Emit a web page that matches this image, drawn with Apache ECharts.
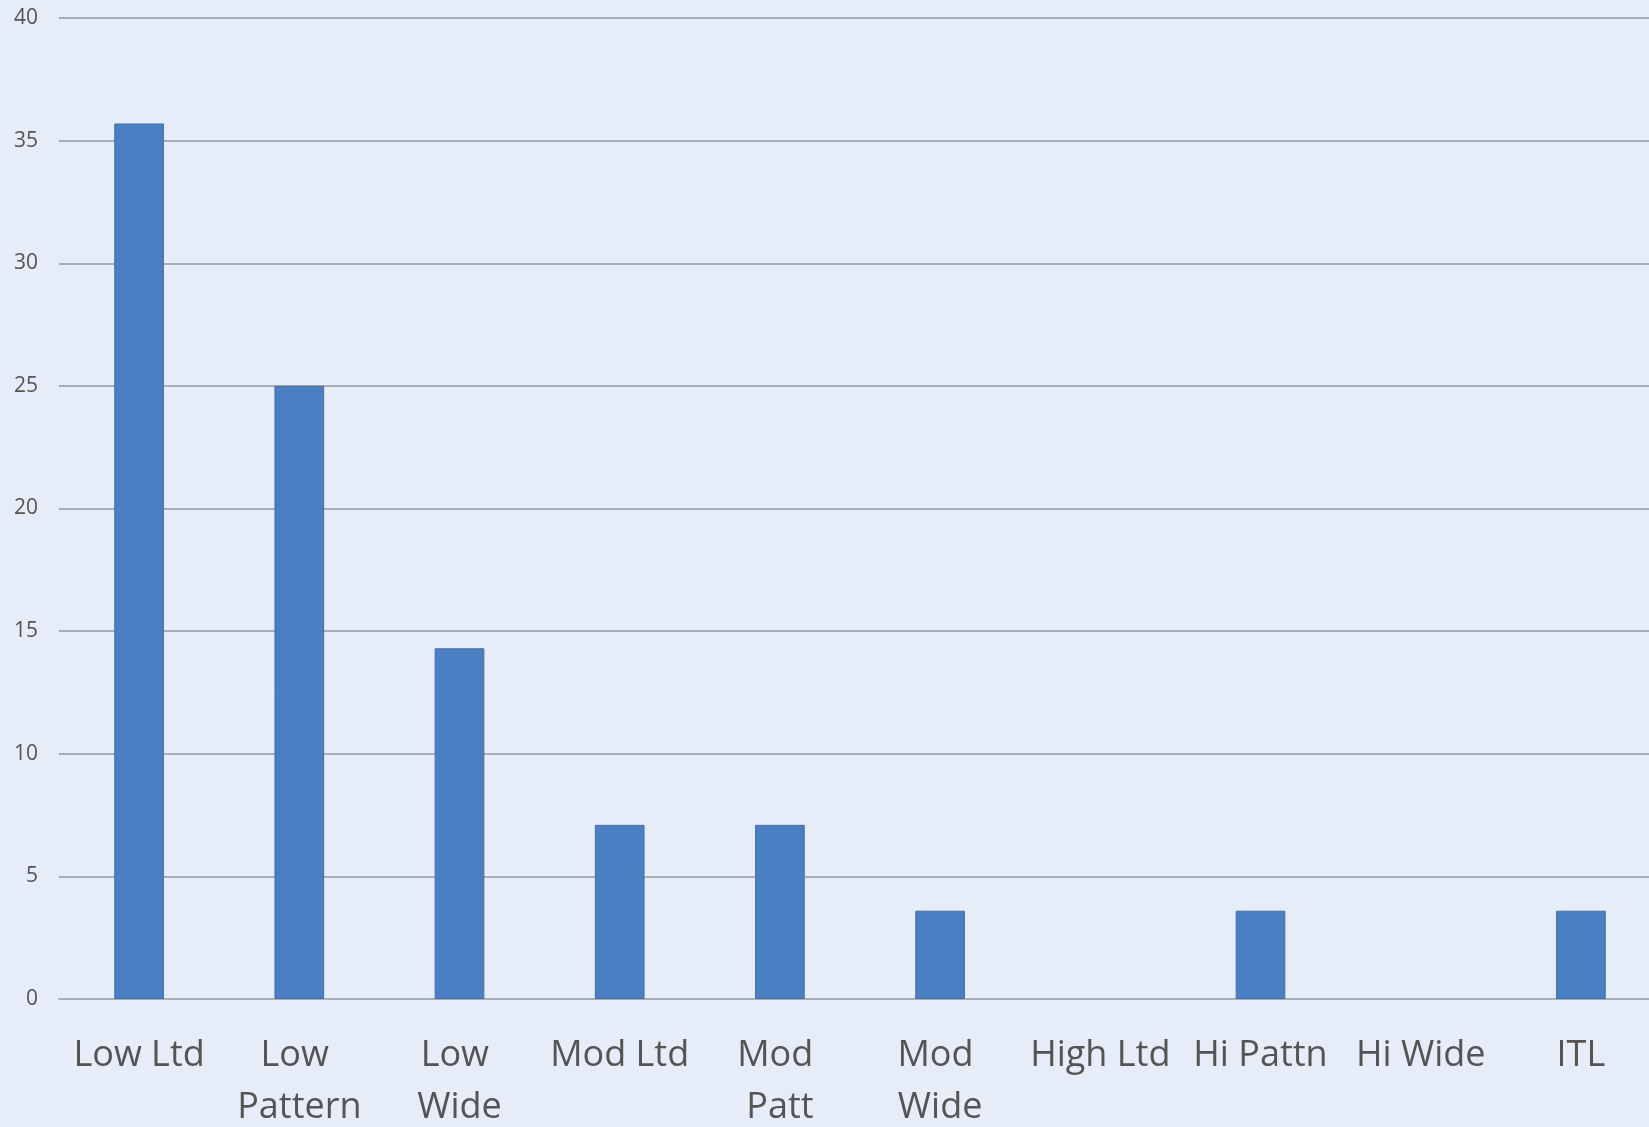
<!DOCTYPE html>
<html>
<head>
<meta charset="utf-8">
<title>Distribution by category</title>
<script src="https://cdn.jsdelivr.net/npm/echarts@6/dist/echarts.min.js"></script>
<style>
  html, body { margin: 0; padding: 0; background: #e6edf8; overflow: hidden; }
  /* the plot runs slightly past the right edge of the window */
  #chart { width: 1661px; height: 1127px; }
</style>
</head>
<body>
<div id="chart"></div>
<script>
// Categories along the x axis
const categories = ['Low Ltd', 'Low Pattern', 'Low Wide', 'Mod Ltd', 'Mod Patt',
                    'Mod Wide', 'High Ltd', 'Hi Pattn', 'Hi Wide', 'ITL'];
// Percentage share per category
const values = [35.7, 25.0, 14.3, 7.1, 7.1, 3.6, 0, 3.6, 0, 3.6];
// Value axis ticks
const yTicks = [0, 5, 10, 15, 20, 25, 30, 35, 40];

const chart = echarts.init(document.getElementById('chart'), null, { renderer: 'canvas' });

chart.setOption({
  backgroundColor: '#e6edf8',
  animation: false,
  grid: { left: 59, right: 0, top: 18, bottom: 128, containLabel: false, outerBoundsMode: 'none' },
  xAxis: {
    type: 'category',
    data: categories,
    axisLine: { show: true, lineStyle: { color: '#a9adb4', width: 2 } },
    axisTick: { show: false },
    axisLabel: {
      interval: 0,
      margin: 31,
      color: '#545454',
      fontFamily: 'Open Sans',
      fontSize: 36,
      lineHeight: 52,
      width: 145,
      overflow: 'break'
    }
  },
  yAxis: {
    type: 'value',
    min: yTicks[0],
    max: yTicks[yTicks.length - 1],
    interval: yTicks[1] - yTicks[0],
    axisLine: { show: false },
    axisTick: { show: false },
    axisLabel: {
      margin: 21,
      color: '#545454',
      fontFamily: 'Open Sans',
      fontSize: 21
    },
    splitLine: { show: true, lineStyle: { color: '#a9adb4', width: 2 } }
  },
  series: [{
    type: 'bar',
    // empty categories get no outline so nothing is drawn for them
    data: values.map(v => (v === 0 ? { value: v, itemStyle: { borderWidth: 0 } } : v)),
    barWidth: '31%',
    itemStyle: {
      color: '#4a7fc4',
      borderColor: '#446ea6',
      borderWidth: 1
    }
  }]
});
</script>
</body>
</html>
